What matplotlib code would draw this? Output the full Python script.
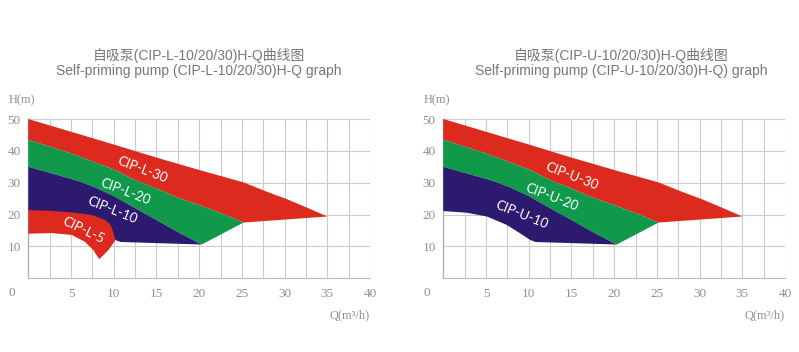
import matplotlib
matplotlib.use("Agg")
import matplotlib.pyplot as plt
import numpy as np

# ---- data ----
x_ticks = [5, 10, 15, 20, 25, 30, 35, 40]
y_ticks = [10, 20, 30, 40, 50]

# CIP-30 band: upper curve and lower boundary
q30_top = [0, 5, 10, 15, 20, 25.2, 27.9, 30.3, 32.6, 35]
h30_top = [50, 46, 42, 37.9, 34.0, 30.1, 27.2, 24.8, 22.2, 19.4]
q30_bot = [0, 5, 10, 12.5, 15, 17.5, 20, 22.5, 25.2, 35]
h30_bot = [43.5, 39.2, 34.2, 30.8, 28.2, 25.3, 23.0, 20.5, 17.5, 19.4]

# CIP-20 band lower boundary (beyond CIP-10 top)
q20_bot = [20.3, 25.2]
h20_bot = [10.6, 17.5]

# CIP-10 band
q10_top = [0, 5, 6.2, 8, 10, 12.5, 15, 17.5, 20.3]
h10_top = [35, 31.2, 30.2, 28.3, 25.8, 22.0, 18.3, 14.5, 10.6]
q10_bot = [0, 2.7, 5.1, 7.4, 9.0, 10.2, 10.8, 20.3]
h10_bot = [21.1, 20.6, 19.4, 16.8, 14.1, 12.0, 11.4, 10.6]

# CIP-L-5 band (left chart only): top edge then right edge down to the tip
q5_top = [0, 2.5, 5, 7.4, 9.0, 9.5, 9.8, 10.2, 9.4, 8.3]
h5_top = [21.4, 21.2, 20.7, 19.9, 18.3, 17.2, 15.7, 12.0, 8.9, 6.0]
q5_bot = [0, 2.7, 5.1, 6.6, 7.6, 8.3]
h5_bot = [14.0, 14.2, 13.6, 11.5, 8.9, 6.0]

series_L = ["CIP-L-30", "CIP-L-20", "CIP-L-10", "CIP-L-5"]
series_U = ["CIP-U-30", "CIP-U-20", "CIP-U-10"]
label_pos_L = [(13.4, 34.0), (11.4, 27.2), (9.8, 21.5), (6.4, 15.0)]
label_pos_U = [(15.0, 31.9), (12.7, 25.5), (9.2, 19.9)]

titles_cn = ["自吸泵(CIP-L-10/20/30)H-Q曲线图", "自吸泵(CIP-U-10/20/30)H-Q曲线图"]
titles_en = ["Self-priming pump (CIP-L-10/20/30)H-Q graph",
             "Self-priming pump (CIP-U-10/20/30)H-Q) graph"]

RED = "#dc2a1f"
GREEN = "#10994a"
NAVY = "#2b1a6e"
GRID = "#cbcbcb"
TXT = "#8f8f8f"

fig = plt.figure(figsize=(7.99, 3.52), dpi=100)


def poly(ax, qt, ht, qb, hb, color):
    xs = list(qt) + list(qb)[::-1]
    ys = list(ht) + list(hb)[::-1]
    ax.fill(xs, ys, color=color, lw=0, zorder=3)


def draw(ax, with5, names, lpos):
    ax.set_xlim(0, 40)
    ax.set_ylim(0, 50)
    for x in np.arange(2.5, 40.01, 2.5):
        ax.axvline(x, color=GRID, lw=0.8, zorder=1)
    for y in y_ticks:
        ax.axhline(y, color=GRID, lw=0.8, zorder=1)
    for s in ["top", "right"]:
        ax.spines[s].set_visible(False)
    ax.spines["left"].set_color("#aaaaaa")
    ax.spines["bottom"].set_color("#bbbbbb")
    ax.spines["left"].set_linewidth(0.9)
    ax.spines["bottom"].set_linewidth(0.8)

    # red 30 band
    poly(ax, q30_top, h30_top, q30_bot, h30_bot, RED)
    # green 20 band: upper = q30_bot up to the kink, lower = CIP-10 top + right edge
    poly(ax, q30_bot[:-1], h30_bot[:-1], q10_top + q20_bot[1:], h10_top + h20_bot[1:], GREEN)
    # navy 10 band
    poly(ax, q10_top, h10_top, q10_bot, h10_bot, NAVY)
    if with5:
        poly(ax, q5_top, h5_top, q5_bot, h5_bot, RED)

    rots = [-21, -21, -22, -26]
    for name, (x, y), r in zip(names, lpos, rots):
        ax.text(x, y, name, color="white", fontsize=9.5, family="Lato",
                rotation=r, rotation_mode="anchor", ha="center", va="center", zorder=5)

    ax.set_xticks(x_ticks)
    ax.set_yticks(y_ticks)
    ax.tick_params(length=0, labelsize=9.5, colors=TXT)
    ax.tick_params(axis="y", pad=5.5)
    ax.tick_params(axis="x", pad=7)
    for lab in ax.get_xticklabels() + ax.get_yticklabels():
        lab.set_family("Liberation Serif")
    ax.text(-0.048, -0.093, "0", transform=ax.transAxes, ha="center", va="center",
            fontsize=9.5, color=TXT, family="Liberation Serif")
    ax.text(-0.058, 1.12, "H(m)", transform=ax.transAxes, ha="left", va="center",
            fontsize=9, color=TXT, family="Liberation Serif")
    ax.text(1.0, -0.23, "Q(m³/h)", transform=ax.transAxes, ha="right", va="center",
            fontsize=9, color=TXT, family="Liberation Serif")


W, H = 799, 352
ax_w = 341.7 / W
ax_h = 159.3 / H
bottom = 1 - 278.3 / H
axL = fig.add_axes([28.3 / W, bottom, ax_w, ax_h])
axR = fig.add_axes([443.3 / W, bottom, ax_w, ax_h])
draw(axL, True, series_L, label_pos_L)
draw(axR, False, series_U, label_pos_U)

for cx, tcn, ten in zip([199 / W, 621.5 / W], titles_cn, titles_en):
    fig.text(cx, 1 - 55.5 / H, tcn, ha="center", va="center", fontsize=10,
             color="#777777", family=["Liberation Sans", "Noto Sans CJK SC"])
    fig.text(cx, 1 - 70.5 / H, ten, ha="center", va="center", fontsize=10,
             color="#777777", family=["Liberation Sans", "Noto Sans CJK SC"])

fig.savefig("out.png", dpi=100, facecolor="white")
